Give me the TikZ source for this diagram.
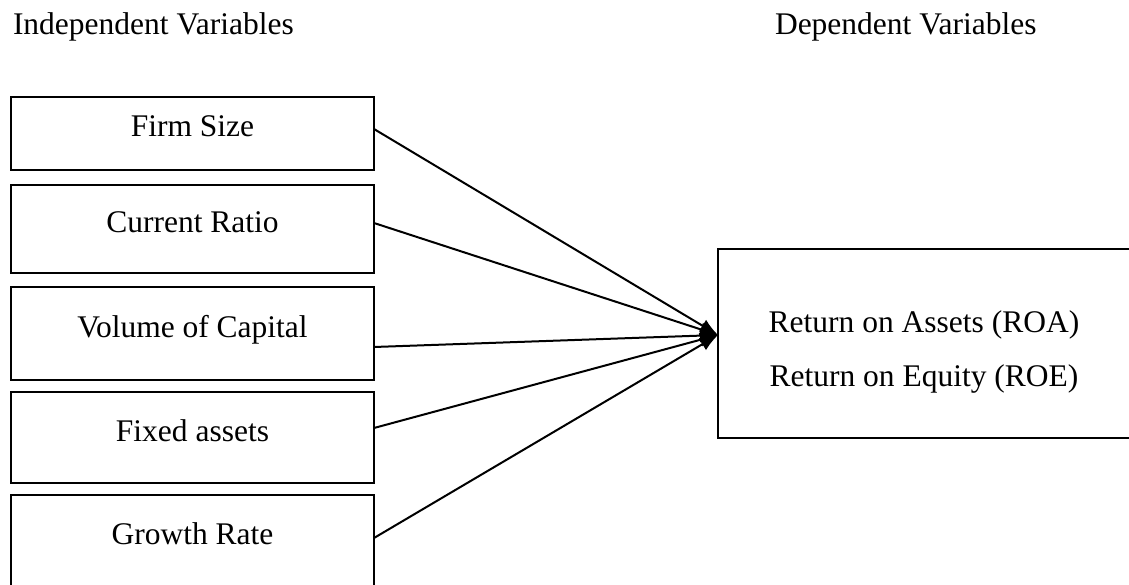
\documentclass[tikz,border=0pt]{standalone}
\usepackage{fontspec}
\setmainfont{Liberation Serif}
\usetikzlibrary{arrows.meta}
\begin{document}
\begin{tikzpicture}[x=1pt,y=-1pt,
  every node/.style={font=\fontsize{31.5}{38}\selectfont, inner sep=0pt, outer sep=0pt},
  varbox/.style={draw, line width=2.3pt, minimum width=363pt, text height=21pt, text depth=14pt, anchor=north west},
  depbox/.style={draw, line width=2.3pt, minimum width=412pt, minimum height=189pt, anchor=north west},
  link/.style={line width=2pt, -{Latex[length=18pt,width=14pt]}},
  hdr/.style={anchor=base west}]
\useasboundingbox (0,0) rectangle (1129,585);
\fill[white] (0,0) rectangle (1129,585);

\node[hdr] (ih) at (13,35) {Independent Variables};
\node[hdr] (dh) at (775,35) {Dependent Variables};

\node[varbox, minimum height=73pt] (b1) at (11,97) {Firm Size};
\node[varbox, minimum height=88pt] (b2) at (11,185) {Current Ratio};
\node[varbox, minimum height=93pt] (b3) at (11,287) {Volume of Capital};
\node[varbox, minimum height=91pt] (b4) at (11,392) {Fixed assets};
\node[varbox, minimum height=91pt] (b5) at (11,495) {Growth Rate};

\node[depbox] (dep) at (718,249) {};
\node[anchor=base] (roa) at (924,332) {Return on Assets (ROA)};
\node[anchor=base] (roe) at (924,386) {Return on Equity (ROE)};

\coordinate (tip) at (718,335);
\draw[link] ([yshift=4.5pt]b1.east) -- (tip);
\draw[link] ([yshift=6pt]b2.east) -- (tip);
\draw[link] ([yshift=-13.5pt]b3.east) -- (tip);
\draw[link] ([yshift=9.5pt]b4.east) -- (tip);
\draw[link] ([yshift=2.5pt]b5.east) -- (tip);
\end{tikzpicture}
\end{document}
